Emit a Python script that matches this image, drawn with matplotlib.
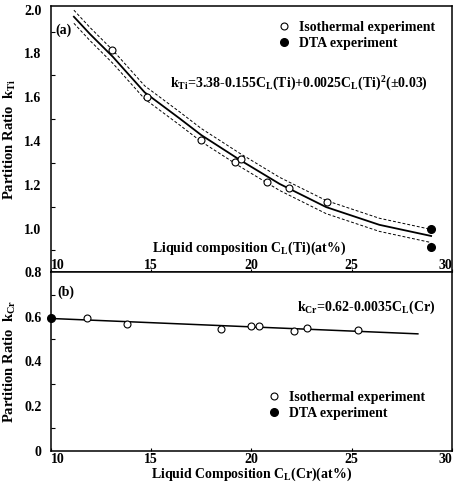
import matplotlib
matplotlib.use("Agg")
from matplotlib import pyplot as plt
from matplotlib.ticker import MultipleLocator, FixedLocator

plt.rcParams['font.family'] = 'Liberation Serif'
plt.rcParams['font.weight'] = 'bold'
plt.rcParams['mathtext.fontset'] = 'custom'
plt.rcParams['mathtext.rm'] = 'Liberation Serif:bold'
plt.rcParams['mathtext.it'] = 'Liberation Serif:bold'
plt.rcParams['mathtext.bf'] = 'Liberation Serif:bold'
plt.rcParams['axes.linewidth'] = 1.1


# ---- data ----

# (a) Ti partition ratio
ti_iso_x = [13.06, 14.78, 17.48, 19.17, 19.47, 20.80, 21.87, 23.78]
ti_iso_y = [1.815, 1.602, 1.404, 1.302, 1.320, 1.213, 1.185, 1.120]
ti_dta_x = [28.96, 28.96]
ti_dta_y = [0.996, 0.915]

# fitted curve (solid) and its +/- band
ti_fit_x = [11.16, 11.96, 13.10, 14.69, 16.43, 17.51, 19.44, 21.41, 23.73, 26.38, 28.96]
ti_fit_y = [1.968, 1.889, 1.785, 1.622, 1.503, 1.427, 1.313, 1.204, 1.098, 1.017, 0.966]
ti_band = 0.03

# (b) Cr partition ratio
cr_iso_x = [11.79, 13.83, 18.47, 20.00, 20.38, 22.15, 22.79, 25.30]
cr_iso_y = [0.596, 0.567, 0.544, 0.559, 0.560, 0.537, 0.551, 0.541]
cr_dta_x = [10.0]
cr_dta_y = [0.593]
cr_fit_x = [10.0, 28.3]
cr_fit_y = [0.593, 0.524]

x_ticks = [10, 15, 20, 25, 30]
x_tick_labels = ["10", "15", "20", "25", "30"]
ti_y_ticks = [1.0, 1.2, 1.4, 1.6, 1.8, 2.0]
ti_y_labels = ["1.0", "1.2", "1.4", "1.6", "1.8", "2.0"]
cr_y_ticks = [0, 0.2, 0.4, 0.6, 0.8]
cr_y_labels = ["0", "0.2", "0.4", "0.6", "0.8"]


# ---- figure ----

fig = plt.figure(figsize=(4.6, 4.84), dpi=100)
ax1 = fig.add_axes([0.110, 0.4374, 0.8726, 0.5502])
ax2 = fig.add_axes([0.110, 0.0688, 0.8726, 0.3686])

fs = 10

def style_axis(ax, yticks, ylabels, ypad):
  ax.set_xlim(10, 30)
  ax.xaxis.set_major_locator(FixedLocator(x_ticks))
  ax.set_xticklabels(x_tick_labels, fontsize=fs, fontweight='bold')
  ax.yaxis.set_major_locator(FixedLocator(yticks))
  ax.set_yticklabels(ylabels, fontsize=fs, fontweight='bold')
  ax.yaxis.set_minor_locator(MultipleLocator(0.1))
  ax.tick_params(axis='y', which='major', direction='in', length=0, pad=6.5)
  ax.tick_params(axis='y', which='minor', direction='in', length=3, width=0.8)
  ax.tick_params(axis='x', which='major', direction='in', length=2, width=0.8, pad=ypad)
  xl = ax.get_xticklabels()
  xl[0].set_ha('left')
  xl[-1].set_ha('right')


# (a)
ax1.plot(ti_fit_x, ti_fit_y, color='black', lw=1.3)
ax1.plot(ti_fit_x, [v + ti_band for v in ti_fit_y], color='black', lw=0.7, ls=(0, (3, 2)))
ax1.plot(ti_fit_x, [v - ti_band for v in ti_fit_y], color='black', lw=0.7, ls=(0, (3, 2)))
ax1.plot(ti_iso_x, ti_iso_y, 'o', ms=5, mfc='white', mec='black', mew=0.8, ls='none',
         label='Isothermal experiment', zorder=5)
ax1.plot(ti_dta_x, ti_dta_y, 'o', ms=5.5, mfc='black', mec='black', ls='none',
         label='DTA experiment', zorder=5)
ax1.set_ylim(0.8, 2.017)
style_axis(ax1, ti_y_ticks, ti_y_labels, -9.5)
ax1.set_ylabel(r"Partition Ratio  k$_{\rm Ti}$", fontsize=10.5, fontweight='bold')
ax1.yaxis.set_label_coords(-0.08, 0.5)
ax1.text(0.013, 0.91, "(a)", transform=ax1.transAxes, fontsize=fs, va='center', ha='left')
ax1.text(0.297, 0.707,
         r"k$_{\rm Ti}$=3.38-0.155C$_{\rm L}$(Ti)+0.0025C$_{\rm L}$(Ti)$^{\rm 2}$(±0.03)",
         transform=ax1.transAxes, fontsize=fs, va='center', ha='left')
ax1.text(0.252, 0.091, r"Liquid composition C$_{\rm L}$(Ti)(at%)", transform=ax1.transAxes,
         fontsize=fs, va='center', ha='left')
ax1.legend(loc='upper right', bbox_to_anchor=(0.958, 0.944), frameon=False, fontsize=fs,
           borderaxespad=0, borderpad=0, handlelength=1.0, handletextpad=0.6, labelspacing=0.2)

# (b)
ax2.plot(cr_fit_x, cr_fit_y, color='black', lw=1.1)
ax2.plot(cr_iso_x, cr_iso_y, 'o', ms=5, mfc='white', mec='black', mew=0.8, ls='none',
         label='Isothermal experiment', zorder=5)
ax2.plot(cr_dta_x, cr_dta_y, 'o', ms=5.5, mfc='black', mec='black', ls='none',
         label='DTA experiment', zorder=5, clip_on=False)
ax2.set_ylim(0, 0.8)
style_axis(ax2, cr_y_ticks, cr_y_labels, 2.0)
ax2.set_ylabel(r"Partition Ratio  k$_{\rm Cr}$", fontsize=10.5, fontweight='bold')
ax2.yaxis.set_label_coords(-0.08, 0.5)
ax2.set_xlabel(r"Liquid Composition C$_{\rm L}$(Cr)(at%)", fontsize=10, fontweight='bold')
ax2.xaxis.set_label_coords(0.5, -0.086)
ax2.text(0.018, 0.89, "(b)", transform=ax2.transAxes, fontsize=fs, va='center', ha='left')
ax2.text(0.614, 0.805, r"k$_{\rm Cr}$=0.62-0.0035C$_{\rm L}$(Cr)",
         transform=ax2.transAxes, fontsize=fs, va='center', ha='left')
ax2.legend(loc='upper right', bbox_to_anchor=(0.934, 0.335), frameon=False, fontsize=fs,
           borderaxespad=0, borderpad=0, handlelength=1.0, handletextpad=0.6, labelspacing=0.2)

fig.savefig("out.png", dpi=100)
